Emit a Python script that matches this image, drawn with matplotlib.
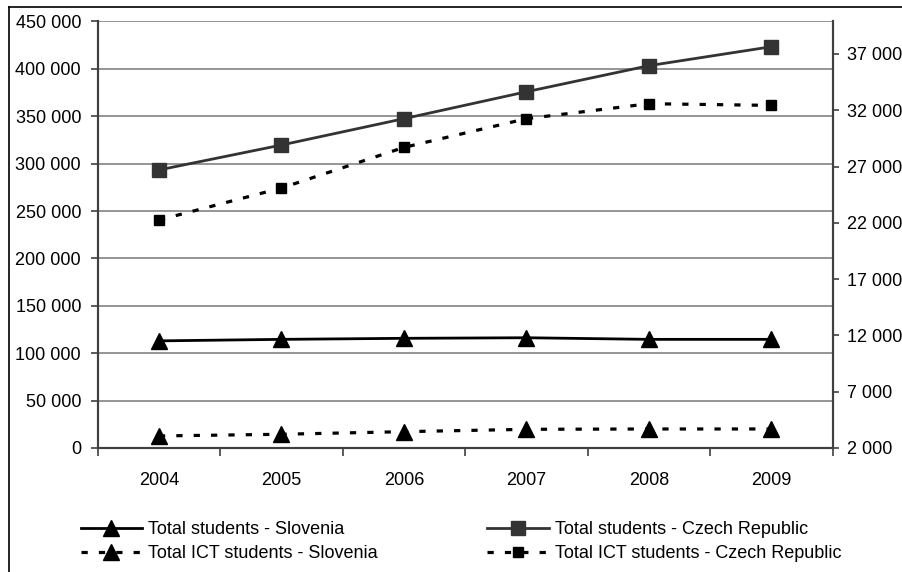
import matplotlib
matplotlib.use("Agg")
import matplotlib.pyplot as plt
from matplotlib.lines import Line2D
from matplotlib.ticker import FuncFormatter, FixedLocator
import numpy as np

plt.rcParams["font.family"] = ["Liberation Sans", "DejaVu Sans"]
plt.rcParams["lines.scale_dashes"] = False

years = ["2004", "2005", "2006", "2007", "2008", "2009"]
total_slovenia = [113000, 114600, 115700, 116300, 114600, 114600]
total_czech = [293300, 319600, 347400, 375800, 403300, 423300]
ict_slovenia = [3070, 3220, 3450, 3660, 3690, 3690]
ict_czech = [22250, 25090, 28700, 31250, 32580, 32430]

left_ticks = list(range(0, 450001, 50000))
right_ticks = list(range(2000, 37001, 5000))

W, H = 902, 572
FS = 13
fig = plt.figure(figsize=(W / 100, H / 100), dpi=100)
ax = fig.add_axes([97.7 / W, 1 - 448 / H, (832.7 - 97.7) / W, (448 - 21.4) / H])
ax2 = ax.twinx()

x = np.arange(len(years))
axis_col = "#404040"
dash = (0, (4.5, 8))

l1, = ax.plot(x, total_slovenia, color="black", lw=2.0, marker="^", ms=11.5,
              label="Total students - Slovenia")
l2, = ax.plot(x, total_czech, color="#333333", lw=2.0, marker="s", ms=9.5,
              label="Total students - Czech Republic")
l3, = ax2.plot(x, ict_slovenia, color="black", lw=2.3, ls=dash, marker="^", ms=11.5,
               label="Total ICT students - Slovenia")
l4, = ax2.plot(x, ict_czech, color="black", lw=2.3, ls=dash, marker="s", ms=6.5,
               label="Total ICT students - Czech Republic")

fmt = FuncFormatter(lambda v, p: f"{int(v):,}".replace(",", " "))

ax.set_xlim(-0.5, len(years) - 0.5)
ax.set_ylim(0, 450000)
ax.yaxis.set_major_locator(FixedLocator(left_ticks))
ax.yaxis.set_major_formatter(fmt)
ax.set_xticks(x)
ax.set_xticklabels(years)
ax.set_xticks(np.arange(-0.5, len(years)), minor=True)
ax.tick_params(axis="x", which="major", length=0, pad=17, labelsize=FS)
ax.tick_params(axis="x", which="minor", length=5.5, width=1.2, color=axis_col, direction="out")
ax.tick_params(axis="y", length=5, width=1.2, color=axis_col, labelsize=FS, pad=7)
ax.grid(axis="y", color="#8c8c8c", lw=1.3)
ax.set_axisbelow(True)

ax2.set_ylim(2000, 39890)
ax2.yaxis.set_major_locator(FixedLocator(right_ticks))
ax2.yaxis.set_major_formatter(fmt)
ax2.tick_params(axis="y", length=4.5, width=1.2, color=axis_col, labelsize=FS, pad=6)

for a in (ax, ax2):
    a.spines["top"].set_visible(False)
    for s in ("left", "right", "bottom"):
        a.spines[s].set_color(axis_col)
        a.spines[s].set_linewidth(1.5)

common = dict(frameon=False, fontsize=FS, handlelength=3.4, handletextpad=0.33,
              labelspacing=0.4, numpoints=1, loc="upper left", borderpad=0,
              borderaxespad=0)
leg1 = fig.legend([l1, l3], [l1.get_label(), l3.get_label()],
                  bbox_to_anchor=(80.7 / W, 1 - 521 / H), **common)
leg2 = fig.legend([l2, l4], [l2.get_label(), l4.get_label()],
                  bbox_to_anchor=(487.3 / W, 1 - 521 / H), **common)

# outer chart frame (partly cut by the image edge)
fig.add_artist(Line2D([9 / W, 1], [1 - 7 / H, 1 - 7 / H], color="black", lw=1.2,
                      transform=fig.transFigure))
fig.add_artist(Line2D([9 / W, 9 / W], [0, 1 - 7 / H], color="black", lw=1.2,
                      transform=fig.transFigure))

fig.savefig("out.png", dpi=100)
